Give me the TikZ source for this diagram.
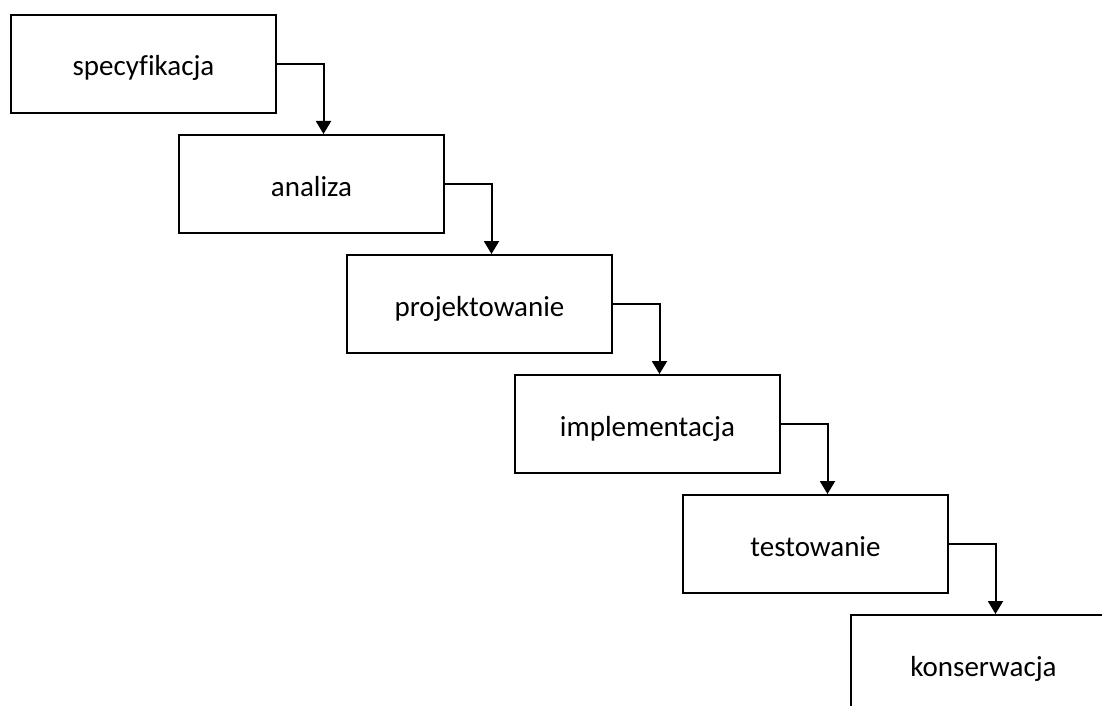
\documentclass[tikz,border=0pt]{standalone}
\usepackage{fontspec}
\setmainfont{Carlito}[Ligatures=CommonOff]
\usetikzlibrary{arrows.meta}
\tikzset{
  stage/.style={draw=black, line width=2pt, minimum width=265pt, minimum height=98pt,
    text height=61pt, text depth=37pt,
    inner sep=0pt, anchor=north west, font=\fontsize{29}{33}\selectfont},
  flow/.style={line width=2pt, -{Triangle[length=13pt,width=15pt]}}
}
\begin{document}
\begin{tikzpicture}[x=1pt,y=-1pt]
\clip (0,0) rectangle (1102,706);
\fill[white] (0,0) rectangle (1102,706);
\node[stage] (s1) at (10,14) {specyfikacja};
\node[stage] (s2) at (178,134) {analiza};
\node[stage] (s3) at (346,254) {projektowanie};
\node[stage] (s4) at (514,374) {implementacja};
\node[stage] (s5) at (682,494) {testowanie};
\node[stage] (s6) at (850,614) {konserwacja};
\draw[flow] (s1.east) -| ([xshift=12pt]s2.north);
\draw[flow] (s2.east) -| ([xshift=12pt]s3.north);
\draw[flow] (s3.east) -| ([xshift=12pt]s4.north);
\draw[flow] (s4.east) -| ([xshift=12pt]s5.north);
\draw[flow] (s5.east) -| ([xshift=12pt]s6.north);
\end{tikzpicture}
\end{document}
